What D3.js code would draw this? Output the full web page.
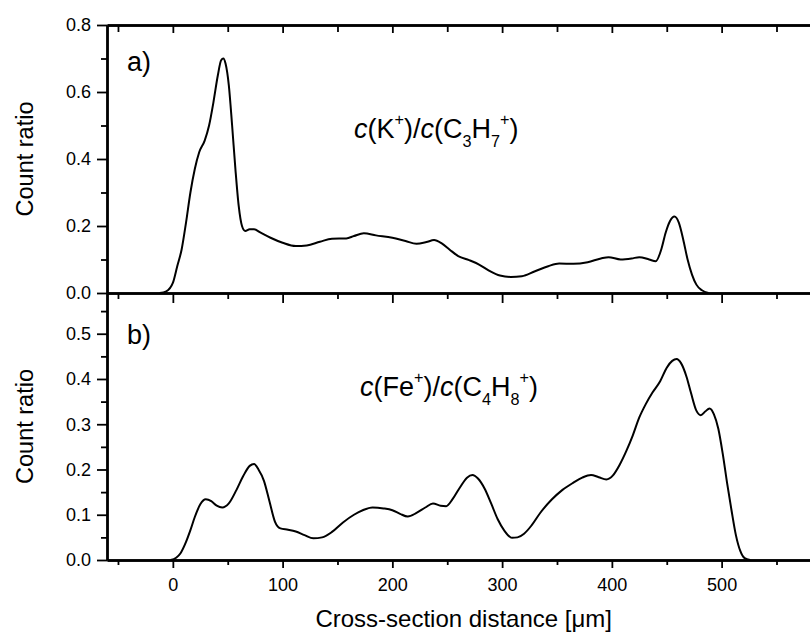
<!DOCTYPE html>
<html>
<head>
<meta charset="utf-8">
<script src="https://cdn.jsdelivr.net/npm/d3@7"></script>
<style>
  body { margin: 0; background: white; }
  text { font-family: "Liberation Sans", Arial, sans-serif; fill: black; }
</style>
</head>
<body>
<div id="chart"></div>
<script>
const width = 810;
const height = 635;

// panel a) c(K+)/c(C3H7+) : [distance um, ratio]
const kDistance = [-12, -6, 0, 4, 8, 12, 16, 20, 24, 29, 33, 37, 41, 44, 46, 48, 51, 54, 57, 60, 63, 66, 70, 74, 80, 89, 100, 112, 122, 134, 145, 158, 165, 174, 185, 200, 212, 222, 231, 238, 245, 252, 260, 270, 279, 288, 298, 308, 318, 330, 342, 352, 365, 378, 390, 397, 408, 418, 425, 434, 440, 445, 449, 453, 457, 461, 465, 469, 473, 477, 482, 488];
const kRatio = [0, 0.005, 0.03, 0.08, 0.13, 0.21, 0.30, 0.37, 0.42, 0.455, 0.50, 0.57, 0.65, 0.695, 0.70, 0.685, 0.62, 0.50, 0.37, 0.26, 0.20, 0.185, 0.19, 0.19, 0.18, 0.165, 0.15, 0.14, 0.142, 0.153, 0.162, 0.163, 0.17, 0.178, 0.172, 0.165, 0.155, 0.147, 0.152, 0.158, 0.148, 0.13, 0.11, 0.098, 0.085, 0.067, 0.052, 0.048, 0.05, 0.065, 0.08, 0.088, 0.087, 0.092, 0.103, 0.107, 0.1, 0.103, 0.107, 0.1, 0.095, 0.13, 0.18, 0.215, 0.228, 0.21, 0.16, 0.1, 0.055, 0.025, 0.008, 0];

// panel b) c(Fe+)/c(C4H8+)
const feDistance = [-2, 3, 7, 12, 16, 20, 25, 30, 35, 40, 45, 51, 58, 64, 70, 74, 78, 83, 88, 93, 98, 105, 112, 120, 128, 136, 145, 155, 165, 173, 182, 192, 200, 207, 214, 222, 230, 237, 244, 249, 255, 262, 268, 273, 278, 284, 290, 296, 302, 309, 314, 320, 327, 335, 345, 355, 365, 373, 381, 388, 395, 401, 407, 413, 419, 425, 431, 437, 444, 450, 455, 459, 463, 468, 472, 477, 481, 485, 489, 493, 497, 501, 505, 509, 513, 517, 521, 526];
const feRatio = [0, 0.005, 0.015, 0.04, 0.066, 0.095, 0.123, 0.134, 0.13, 0.12, 0.116, 0.125, 0.155, 0.185, 0.208, 0.212, 0.2, 0.175, 0.13, 0.085, 0.07, 0.067, 0.063, 0.055, 0.048, 0.05, 0.062, 0.083, 0.1, 0.11, 0.116, 0.114, 0.11, 0.102, 0.096, 0.104, 0.116, 0.125, 0.12, 0.119, 0.135, 0.162, 0.182, 0.188, 0.18, 0.158, 0.125, 0.09, 0.065, 0.049, 0.05, 0.058, 0.077, 0.105, 0.133, 0.155, 0.171, 0.182, 0.188, 0.183, 0.178, 0.187, 0.21, 0.24, 0.275, 0.315, 0.345, 0.37, 0.395, 0.425, 0.44, 0.444, 0.435, 0.405, 0.37, 0.33, 0.32, 0.328, 0.335, 0.322, 0.29, 0.235, 0.17, 0.11, 0.055, 0.02, 0.004, 0];

const xMajor = [0, 100, 200, 300, 400, 500];
const xMinor = [-50, 50, 150, 250, 350, 450, 550];
const topMajor = [0, 0.2, 0.4, 0.6, 0.8];
const topMinor = [0.1, 0.3, 0.5, 0.7];
const botMajor = [0, 0.1, 0.2, 0.3, 0.4, 0.5];
const botMinor = [0.05, 0.15, 0.25, 0.35, 0.45, 0.55];

const x = d3.scaleLinear().domain([-60, 590]).range([107, 820.4]);
const yTop = d3.scaleLinear().domain([0, 0.8]).range([293, 25]);
const yBot = d3.scaleLinear().domain([0, 0.59]).range([560, 293]);

const svg = d3.select("#chart")
  .append("svg")
  .attr("width", width)
  .attr("height", height)
  .style("display", "block");

svg.append("rect").attr("width", width).attr("height", height).attr("fill", "white");

function styleAxis(g) {
  g.selectAll(".domain").attr("stroke", "black").attr("stroke-width", 2.4);
  g.selectAll(".tick line").attr("stroke", "black").attr("stroke-width", 1.8);
  g.selectAll(".tick text").attr("font-size", 18).attr("font-family", "Liberation Sans, Arial, sans-serif");
}

function noText(g) {
  g.selectAll(".tick text").remove();
}

// left axes
svg.append("g").attr("transform", `translate(${x(-60)},0)`)
  .call(d3.axisLeft(yTop).tickValues(topMajor).tickFormat(d3.format(".1f")).tickSize(10).tickPadding(6).tickSizeOuter(0))
  .call(styleAxis);
svg.append("g").attr("transform", `translate(${x(-60)},0)`)
  .call(d3.axisLeft(yTop).tickValues(topMinor).tickSize(6).tickSizeOuter(0))
  .call(styleAxis).call(noText);
svg.append("g").attr("transform", `translate(${x(-60)},0)`)
  .call(d3.axisLeft(yBot).tickValues(botMajor).tickFormat(d3.format(".1f")).tickSize(10).tickPadding(6).tickSizeOuter(0))
  .call(styleAxis);
svg.append("g").attr("transform", `translate(${x(-60)},0)`)
  .call(d3.axisLeft(yBot).tickValues(botMinor).tickSize(6).tickSizeOuter(0))
  .call(styleAxis).call(noText);

// right axes (ticks inward)
[[yTop, topMajor, 10], [yTop, topMinor, 8], [yBot, botMajor, 10], [yBot, botMinor, 8]].forEach(([sc, vals, size]) => {
  svg.append("g").attr("transform", `translate(${x(590)},0)`)
    .call(d3.axisRight(sc).tickValues(vals).tickSize(-size).tickSizeOuter(0))
    .call(styleAxis).call(noText);
});

// horizontal axes: top frame, middle line, bottom axis
svg.append("g").attr("transform", `translate(0,${yTop(0.8)})`)
  .call(d3.axisBottom(x).tickValues(xMajor).tickSize(8).tickSizeOuter(0))
  .call(styleAxis).call(noText);
svg.append("g").attr("transform", `translate(0,${yTop(0.8)})`)
  .call(d3.axisBottom(x).tickValues(xMinor).tickSize(7).tickSizeOuter(0))
  .call(styleAxis).call(noText);

svg.append("g").attr("transform", `translate(0,${yTop(0)})`)
  .call(d3.axisBottom(x).tickValues(xMajor).tickSize(10).tickSizeOuter(0))
  .call(styleAxis).call(noText);
svg.append("g").attr("transform", `translate(0,${yTop(0)})`)
  .call(d3.axisBottom(x).tickValues(xMinor).tickSize(6).tickSizeOuter(0))
  .call(styleAxis).call(noText);

svg.append("g").attr("transform", `translate(0,${yBot(0)})`)
  .call(d3.axisBottom(x).tickValues(xMajor).tickFormat(d3.format("d")).tickSize(8).tickPadding(10).tickSizeOuter(0))
  .call(styleAxis);
svg.append("g").attr("transform", `translate(0,${yBot(0)})`)
  .call(d3.axisBottom(x).tickValues(xMinor).tickSize(5).tickSizeOuter(0))
  .call(styleAxis).call(noText);

// curves
const lineTop = d3.line()
  .x((d, i) => x(kDistance[i]))
  .y(d => yTop(d))
  .curve(d3.curveMonotoneX);
const lineBot = d3.line()
  .x((d, i) => x(feDistance[i]))
  .y(d => yBot(d))
  .curve(d3.curveMonotoneX);

svg.append("path")
  .attr("d", lineTop(kRatio))
  .attr("fill", "none")
  .attr("stroke", "black")
  .attr("stroke-width", 2);
svg.append("path")
  .attr("d", lineBot(feRatio))
  .attr("fill", "none")
  .attr("stroke", "black")
  .attr("stroke-width", 2);

// axis titles
svg.append("text")
  .attr("transform", `translate(33,${(yTop(0) + yTop(0.8)) / 2}) rotate(-90)`)
  .attr("text-anchor", "middle")
  .attr("font-size", 23.5)
  .text("Count ratio");
svg.append("text")
  .attr("transform", `translate(33,${(yBot(0) + yBot(0.59)) / 2}) rotate(-90)`)
  .attr("text-anchor", "middle")
  .attr("font-size", 23.5)
  .text("Count ratio");
svg.append("text")
  .attr("x", (x(-60) + x(590)) / 2)
  .attr("y", 627)
  .attr("text-anchor", "middle")
  .attr("font-size", 24)
  .text("Cross-section distance [\u03bcm]");

// panel letters
svg.append("text").attr("x", 127).attr("y", 71).attr("font-size", 27).text("a)");
svg.append("text").attr("x", 127).attr("y", 344).attr("font-size", 27).text("b)");

// formula labels
function formula(px, py, parts) {
  const fs = 27;
  const t = svg.append("text").attr("x", px).attr("y", py).attr("font-size", fs);
  let level = 0;
  parts.forEach(p => {
    let target = 0;
    if (p.kind === "sup") target = -0.5 * fs;
    if (p.kind === "sub") target = 0.33 * fs;
    const span = t.append("tspan")
      .attr("dy", target - level)
      .attr("font-size", p.kind ? fs * 0.6 : fs)
      .text(p.t);
    if (p.italic) span.attr("font-style", "italic");
    level = target;
  });
}

formula(354, 138, [
  {t: "c", italic: true}, {t: "(K"}, {t: "+", kind: "sup"}, {t: ")/"},
  {t: "c", italic: true}, {t: "(C"}, {t: "3", kind: "sub"}, {t: "H"},
  {t: "7", kind: "sub"}, {t: "+", kind: "sup"}, {t: ")"}
]);
formula(360, 396, [
  {t: "c", italic: true}, {t: "(Fe"}, {t: "+", kind: "sup"}, {t: ")/"},
  {t: "c", italic: true}, {t: "(C"}, {t: "4", kind: "sub"}, {t: "H"},
  {t: "8", kind: "sub"}, {t: "+", kind: "sup"}, {t: ")"}
]);
</script>
</body>
</html>
